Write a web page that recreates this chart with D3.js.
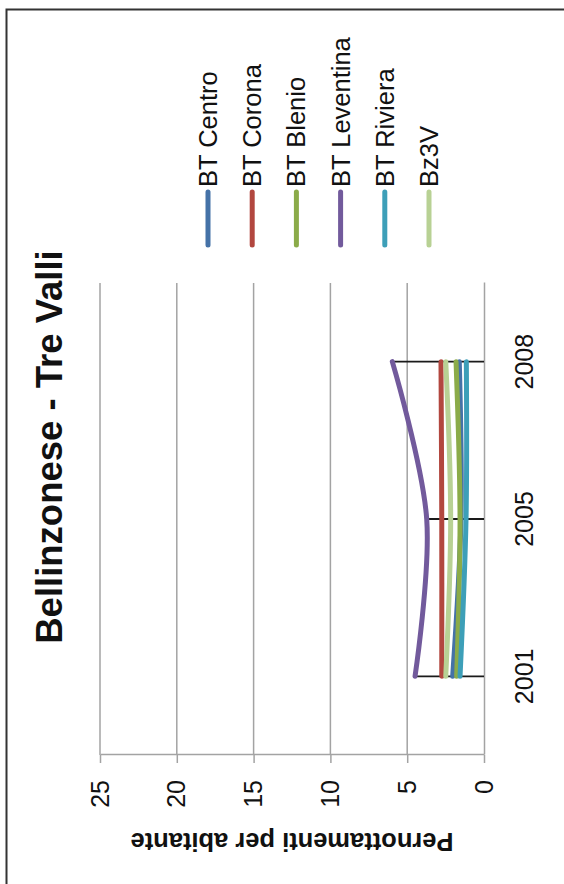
<!DOCTYPE html>
<html>
<head>
<meta charset="utf-8">
<script src="https://cdn.jsdelivr.net/npm/d3@7"></script>
<style>
  html, body { margin: 0; padding: 0; background: #fff; }
  svg { display: block; font-family: "Liberation Sans", Arial, sans-serif; }
</style>
</head>
<body>
<div id="chart"></div>
<script>
// ---- Data ----
const categories = ["2001", "2005", "2008"];
const seriesNames = ["BT Centro", "BT Corona", "BT Blenio", "BT Leventina", "BT Riviera", "Bz3V"];
const btCentro    = [2.04, 1.50, 1.61];
const btCorona    = [2.75, 2.75, 2.80];
const btBlenio    = [1.78, 1.56, 1.82];
const btLeventina = [4.49, 3.73, 5.97];
const btRiviera   = [1.56, 1.17, 1.15];
const bz3V        = [2.49, 2.17, 2.49];
const seriesColors = ["#4572a7", "#b2473f", "#8bab49", "#725a9c", "#3d9fb8", "#b8d194"];
const valueTicks = [0, 5, 10, 15, 20, 25];
const chartTitle = "Bellinzonese - Tre Valli";
const axisTitle = "Pernottamenti per abitante";

const seriesValues = [btCentro, btCorona, btBlenio, btLeventina, btRiviera, bz3V];

// ---- Layout (chart drawn in landscape and rotated -90deg onto the page) ----
const pageW = 564, pageH = 884;

const svg = d3.select("#chart").append("svg")
  .attr("width", pageW).attr("height", pageH);

svg.append("rect").attr("width", pageW).attr("height", pageH).attr("fill", "#fff");

const g = svg.append("g").attr("transform", `translate(0,${pageH}) rotate(-90)`);

// outer frame (extends past the page on two sides)
g.append("rect")
  .attr("x", -20).attr("y", 6.5)
  .attr("width", 874.5 + 20).attr("height", 640)
  .attr("fill", "none").attr("stroke", "#333").attr("stroke-width", 2);

const plotLeft = 129, plotRight = 601, plotTop = 100, plotBottom = 484;

const x = d3.scaleBand().domain(categories).range([plotLeft, plotRight]).padding(0);
const y = d3.scaleLinear().domain([0, 25]).range([plotBottom, plotTop]);
const cx = c => x(c) + x.bandwidth() / 2;

// gridlines
g.append("g").selectAll("line")
  .data(valueTicks.filter(v => v > 0))
  .join("line")
  .attr("x1", plotLeft).attr("x2", plotRight)
  .attr("y1", d => y(d)).attr("y2", d => y(d))
  .attr("stroke", "#a3a3a3").attr("stroke-width", 1.5);

// value axis
const yAxis = g.append("g")
  .attr("transform", `translate(${plotLeft},0)`)
  .call(d3.axisLeft(y).tickValues(valueTicks).tickSize(8).tickSizeOuter(0).tickPadding(17));
yAxis.select(".domain").attr("stroke", "#a3a3a3").attr("stroke-width", 1.5);
yAxis.selectAll(".tick line").attr("stroke", "#a3a3a3").attr("stroke-width", 1.5);
yAxis.selectAll(".tick text")
  .attr("font-size", 25).attr("fill", "#111")
  .attr("font-family", "Liberation Sans, Arial, sans-serif");

// category axis
const xAxis = g.append("g")
  .attr("transform", `translate(0,${plotBottom})`)
  .call(d3.axisBottom(x).tickSize(0).tickPadding(0));
xAxis.select(".domain").attr("stroke", "#a3a3a3").attr("stroke-width", 1.5);
xAxis.selectAll(".tick text")
  .attr("font-size", 25).attr("fill", "#111")
  .attr("dy", null).attr("y", 49)
  .attr("font-family", "Liberation Sans, Arial, sans-serif");

// drop lines from highest point to axis
g.append("g").selectAll("line")
  .data(categories)
  .join("line")
  .attr("x1", d => cx(d)).attr("x2", d => cx(d))
  .attr("y1", (d, i) => y(d3.max(seriesValues, s => s[i])))
  .attr("y2", y(0))
  .attr("stroke", "#1a1a1a").attr("stroke-width", 1.8);

// lines
const line = d3.line()
  .x((d, i) => cx(categories[i]))
  .y(d => y(d))
  .curve(d3.curveCatmullRom.alpha(0.5));

g.append("g").selectAll("path")
  .data(seriesValues)
  .join("path")
  .attr("d", d => line(d))
  .attr("fill", "none")
  .attr("stroke", (d, i) => seriesColors[i])
  .attr("stroke-width", 5)
  .attr("stroke-linecap", "round")
  .attr("stroke-linejoin", "round");

// title
g.append("text")
  .attr("x", 437).attr("y", 62)
  .attr("text-anchor", "middle")
  .attr("font-size", 36.5).attr("font-weight", "bold").attr("fill", "#111")
  .text(chartTitle);

// axis title
g.append("text")
  .attr("transform", `translate(51,${(plotTop + plotBottom) / 2}) rotate(-90)`)
  .attr("text-anchor", "middle")
  .attr("font-size", 25.5).attr("font-weight", "bold").attr("fill", "#111")
  .text(axisTitle);

// legend
const legend = g.append("g").selectAll("g")
  .data(seriesNames)
  .join("g")
  .attr("transform", (d, i) => `translate(639,${208 + i * 44.2})`);
legend.append("line")
  .attr("x1", 0).attr("x2", 53)
  .attr("stroke", (d, i) => seriesColors[i])
  .attr("stroke-width", 5).attr("stroke-linecap", "round");
legend.append("text")
  .attr("x", 58).attr("y", 9)
  .attr("font-size", 25.5).attr("fill", "#111")
  .text(d => d);
</script>
</body>
</html>
